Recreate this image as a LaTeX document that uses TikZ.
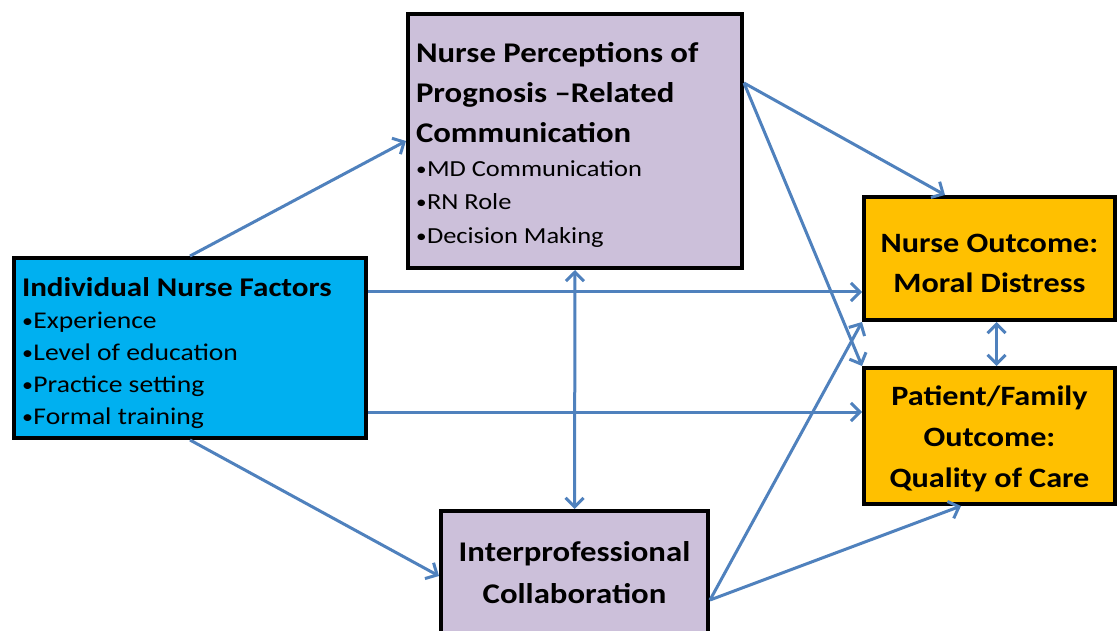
\documentclass[tikz,border=0pt]{standalone}
\usepackage{fontspec}
\setmainfont{Carlito}[FakeStretch=1.15]
\usetikzlibrary{calc,arrows.meta}
\definecolor{cyanc}{HTML}{00B0F0}
\definecolor{lav}{HTML}{CCC0DA}
\definecolor{gold}{HTML}{FFC000}
\definecolor{arrc}{HTML}{4F81BD}
\tikzset{
  box/.style={draw=black, line width=4pt, inner sep=0pt},
  arr/.style={draw=arrc, line width=3pt, -{Straight Barb[length=9pt,width=18pt,line width=3pt]}},
  darr/.style={draw=arrc, line width=3pt, {Straight Barb[length=9pt,width=18pt,line width=3pt]}-{Straight Barb[length=9pt,width=18pt,line width=3pt]}}
}
\newcommand{\bul}{\raisebox{0.05em}{\scalebox{0.8}{•}}\hspace{0.02em}}
\begin{document}
\begin{tikzpicture}[x=1pt,y=-1pt]
\useasboundingbox (0,0) rectangle (1117,631);
\clip (0,0) rectangle (1117,631);
\fill[white] (0,0) rectangle (1117,631);
\node[box, fill=cyanc, minimum width=352, minimum height=180] (ind) at (190,348)
 {\begin{minipage}{336pt}\vspace*{10pt}
  \fontsize{27}{34}\selectfont\bfseries Individual Nurse Factors\par
  \fontsize{24}{32}\selectfont\mdseries \bul Experience\par \bul Level of education\par \bul Practice setting\par \bul Formal training\par
  \end{minipage}};
\node[box, fill=lav, minimum width=334, minimum height=254] (np) at (575,141)
 {\begin{minipage}{318pt}\vspace*{8pt}
  \fontsize{28.5}{40}\selectfont\bfseries Nurse Perceptions of\par Prognosis –Related\par Communication\par
  \fontsize{23}{33.5}\selectfont\mdseries \bul MD Communication\par \bul RN Role\par \bul Decision Making\par
  \end{minipage}};
\node[box, fill=lav, minimum width=267, minimum height=130] (ipc) at (574.5,576)
 {\begin{minipage}{260pt}\centering
  \fontsize{28.5}{42}\selectfont\bfseries Interprofessional\par Collaboration\par\vspace*{6pt}
  \end{minipage}};
\node[box, fill=gold, minimum width=251, minimum height=123] (no) at (989.5,258.5)
 {\begin{minipage}{245pt}\centering\vspace*{10pt}
  \fontsize{28}{40}\selectfont\bfseries Nurse Outcome:\par Moral Distress\par
  \end{minipage}};
\node[box, fill=gold, minimum width=251, minimum height=136] (pf) at (989.5,436)
 {\begin{minipage}{245pt}\centering\vspace*{6pt}
  \fontsize{28}{41}\selectfont\bfseries Patient/Family\par Outcome:\par Quality of Care\par
  \end{minipage}};
\coordinate (a2) at ($(ind.east)+(0,-56)$);
\coordinate (a3) at ($(ind.east)+(0,64)$);
\coordinate (npr) at ($(np.north east)+(0,71)$);
\coordinate (ipr) at ($(ipc.east)+(0,24)$);
\coordinate (not) at ($(no.north west)+(83,0)$);
\coordinate (pfb) at ($(pf.south west)+(99,0)$);
\coordinate (nob) at ($(no.south)+(7,0)$);
\coordinate (pft) at ($(pf.north)+(7,0)$);
\draw[arr] (ind.north) -- (np.west);
\draw[arr] (a2) -- (a2 -| no.west);
\draw[arr] (a3) -- (a3 -| pf.west);
\draw[arr] (ind.south) -- (ipc.west);
\draw[arr] (npr) -- (not);
\draw[arr] (npr) -- (pf.north west);
\draw[darr] (np.south) -- (ipc.north);
\draw[arr] (ipr) -- (no.south west);
\draw[arr] (ipr) -- (pfb);
\draw[darr] (nob) -- (pft);
\end{tikzpicture}
\end{document}
